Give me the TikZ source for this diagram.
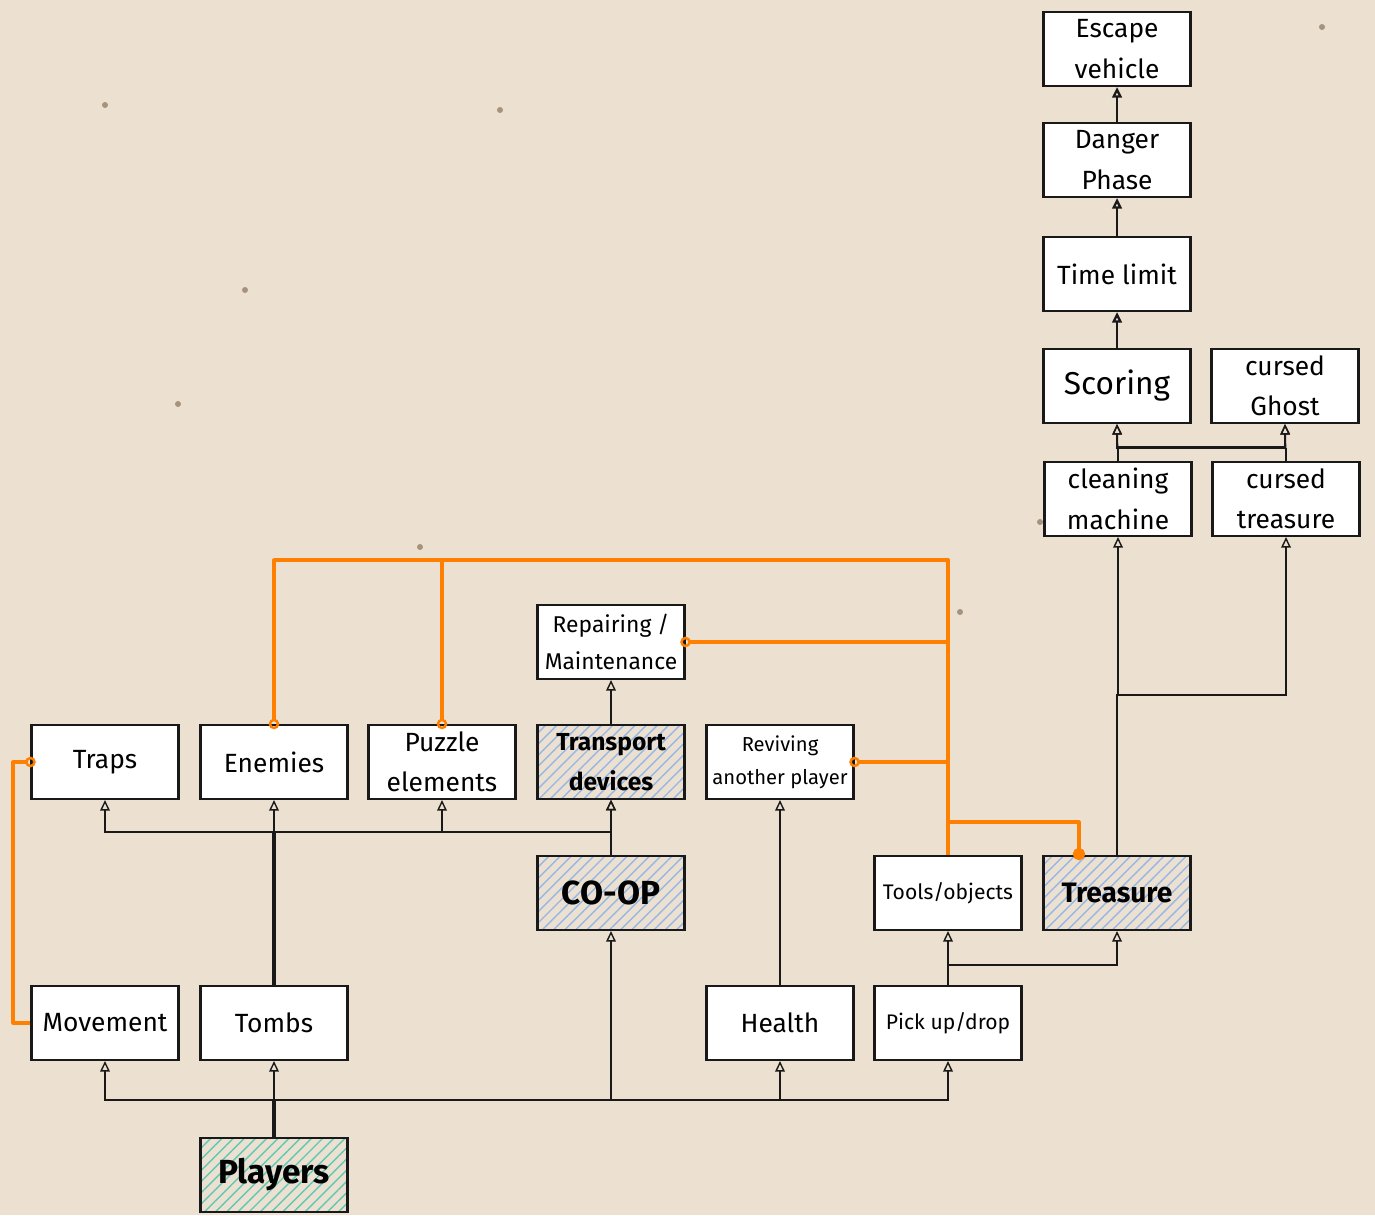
\documentclass[tikz,border=0pt]{standalone}
\usepackage{fontspec}
\setmainfont{Fira Sans}
\usetikzlibrary{arrows.meta,patterns.meta}
\definecolor{paper}{RGB}{236,225,208}
\definecolor{spot}{RGB}{120,95,70}
\definecolor{ink}{RGB}{25,25,25}
\definecolor{orng}{RGB}{255,128,0}
\definecolor{hatchblue}{RGB}{150,182,232}
\definecolor{hatchteal}{RGB}{95,200,180}
\tikzset{
  box/.style={draw=ink, line width=1.2pt, fill=white, minimum width=2.94cm,
    minimum height=1.48cm, inner sep=1pt, align=center,
    font=\fontsize{15}{23}\selectfont},
  smallbox/.style={box, font=\fontsize{11.5}{19}\selectfont},
  hatchbox/.style={box, fill=none,
    pattern={Lines[angle=45,distance=4.5pt,line width=0.8pt]},
    pattern color=hatchblue, font=\bfseries\fontsize{15}{23}\selectfont},
  tealbox/.style={hatchbox, pattern color=hatchteal},
  arr/.style={draw=ink, line width=0.8pt, -{Triangle[open, length=6pt, width=5.5pt]}},
  trunk/.style={draw=ink, line width=2pt},
  olink/.style={draw=orng, line width=1.8pt, line join=round, shorten >=-3pt,
    -{Circle[open, length=6pt, line width=1.4pt]}},
  odot/.style={draw=orng, line width=1.8pt, line join=round, shorten >=-3pt,
    -{Circle[length=7pt]}},
}
\begin{document}
\begin{tikzpicture}[x=0.02cm, y=-0.02cm]
\fill[paper] (0,0) rectangle (1375,1215);
\useasboundingbox (0,0) rectangle (1375,1215);
% small dark specks of the paper
\foreach \p in {(105,105),(178,404),(420,547),(1322,27),(500,110),(960,612),(1040,522),(245,290)}
  \fill[spot, opacity=0.6] \p circle (3);

% nodes
\node[box] (Escape) at (1117,49) {Escape\\vehicle};
\node[box] (Danger) at (1117,160) {Danger\\Phase};
\node[box] (Time) at (1117,274) {Time limit};
\node[box, font=\fontsize{18}{23}\selectfont] (Scoring) at (1117,386) {Scoring};
\node[box] (Ghost) at (1285,386) {cursed\\Ghost};
\node[box] (Cleaning) at (1118,499) {cleaning\\machine};
\node[box] (CTreasure) at (1286,499) {cursed\\treasure};
\node[box, font=\fontsize{13}{21}\selectfont] (Repair) at (611,642) {Repairing /\\Maintenance};
\node[box] (Traps) at (105,762) {Traps};
\node[box] (Enemies) at (274,762) {Enemies};
\node[box] (Puzzle) at (442,762) {Puzzle\\elements};
\node[hatchbox, font=\bfseries\fontsize{14}{23}\selectfont] (Transport) at (611,762) {Transport\\devices};
\node[smallbox] (Reviving) at (780,762) {Reviving\\another player};
\node[hatchbox, font=\bfseries\fontsize{19}{23}\selectfont] (Coop) at (611,893) {CO-OP};
\node[box, font=\fontsize{12}{20}\selectfont] (Tools) at (948,893) {Tools/objects};
\node[hatchbox, font=\bfseries\fontsize{16}{23}\selectfont] (Treasure) at (1117,893) {Treasure};
\node[box] (Movement) at (105,1023) {Movement};
\node[box] (Tombs) at (274,1023) {Tombs};
\node[box] (Health) at (780,1023) {Health};
\node[box, font=\fontsize{12}{20}\selectfont] (Pick) at (948,1023) {Pick up/drop};
\node[tealbox, font=\bfseries\fontsize{19}{23}\selectfont] (Players) at (274,1175) {Players};

% bus levels
\coordinate (yP) at (0,1100);
\coordinate (yT) at (0,832);
\coordinate (yK) at (0,965);
\coordinate (yR) at (0,695);
\coordinate (yS) at (0,447);
\coordinate (yO) at (0,560);
\coordinate (yTr) at (0,822);
\coordinate (xL) at (13,0);

% black connectors
\draw[trunk] (Players.north) -- (Players.north |- yP);
\draw[arr] (Players.north) -- (Players.north |- yP) -| (Movement.south);
\draw[arr] (Players.north) -- (Tombs.south);
\draw[arr] (Players.north) -- (Players.north |- yP) -| (Coop.south);
\draw[arr] (Players.north) -- (Players.north |- yP) -| (Health.south);
\draw[arr] (Players.north) -- (Players.north |- yP) -| (Pick.south);

\draw[trunk] (Tombs.north) -- (Tombs.north |- yT);
\draw[arr] (Tombs.north) -- (Tombs.north |- yT) -| (Traps.south);
\draw[arr] (Tombs.north) -- (Enemies.south);
\draw[arr] (Tombs.north) -- (Tombs.north |- yT) -| (Puzzle.south);
\draw[arr] (Tombs.north) -- (Tombs.north |- yT) -| (Transport.south);
\draw[arr] (Coop.north) -- (Transport.south);
\draw[arr] (Transport.north) -- (Repair.south);
\draw[arr] (Health.north) -- (Reviving.south);

\draw[arr] (Pick.north) -- (Pick.north |- yK) -| (Tools.south);
\draw[arr] (Pick.north) -- (Pick.north |- yK) -| (Treasure.south);

\draw[arr] (Treasure.north) -- (Treasure.north |- yR) -| (Cleaning.south);
\draw[arr] (Treasure.north) -- (Treasure.north |- yR) -| (CTreasure.south);

\draw[arr] (Cleaning.north) -- (Scoring.south);
\draw[arr] (Cleaning.north) -- (Cleaning.north |- yS) -| (Ghost.south);
\draw[arr] (CTreasure.north) -- (Ghost.south);
\draw[arr] (CTreasure.north) -- ([yshift=-1pt]CTreasure.north |- yS) -| (Scoring.south);

\draw[arr, line width=1.3pt] (Scoring.north) -- (Time.south);
\draw[arr, line width=1.3pt] (Time.north) -- (Danger.south);
\draw[arr, line width=1.3pt] (Danger.north) -- (Escape.south);

% orange connectors
\draw[olink] (Tools.north) -- (Tools.north |- yO) -| (Enemies.north);
\draw[olink] (Tools.north) -- (Tools.north |- yO) -| (Puzzle.north);
\draw[olink] (Tools.north) -- (Tools.north |- Repair.east) -- (Repair.east);
\draw[olink] (Tools.north) -- (Tools.north |- Reviving.east) -- (Reviving.east);
\draw[odot] (Tools.north) -- (Tools.north |- yTr) -| (Treasure.135);
\draw[olink] (Movement.west) -- (Movement.west -| xL) |- (Traps.west);
\end{tikzpicture}
\end{document}
